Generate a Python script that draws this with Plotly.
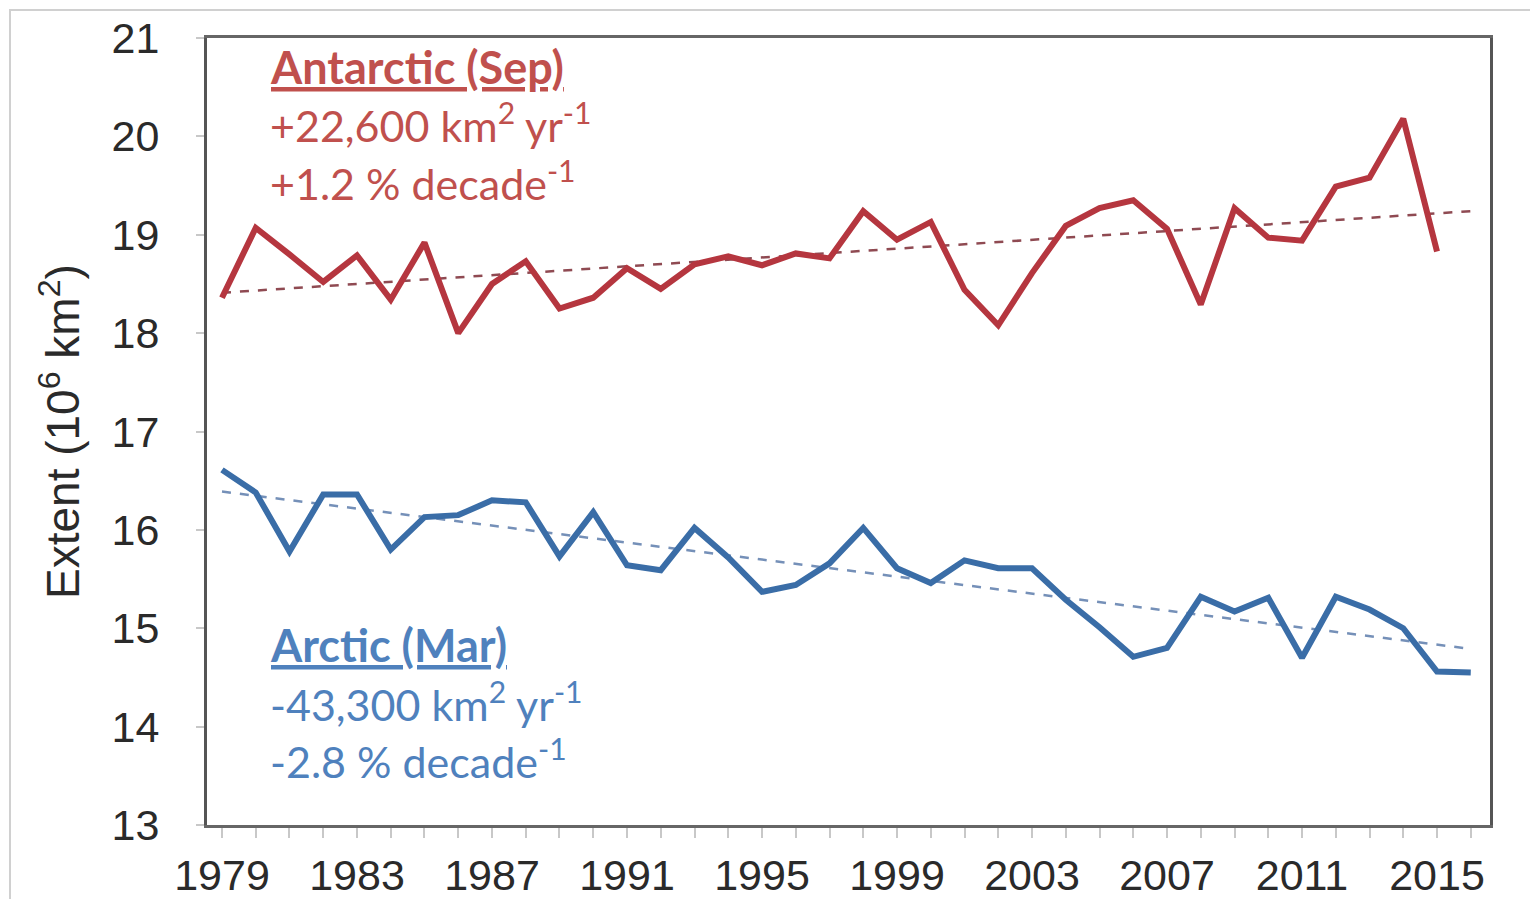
import plotly.graph_objects as go

years_ant = list(range(1979, 2016))
antarctic_sep = [18.36, 19.07, 18.80, 18.52, 18.79, 18.34, 18.92, 18.00, 18.50, 18.73,
                 18.25, 18.36, 18.66, 18.45, 18.70, 18.78, 18.69, 18.81, 18.76, 19.24,
                 18.95, 19.13, 18.44, 18.08, 18.61, 19.09, 19.27, 19.35, 19.06, 18.29,
                 19.27, 18.97, 18.94, 19.49, 19.58, 20.18, 18.83]

years_arc = list(range(1979, 2017))
arctic_mar = [16.61, 16.38, 15.78, 16.36, 16.36, 15.80, 16.13, 16.15, 16.30, 16.28,
              15.73, 16.18, 15.64, 15.59, 16.02, 15.72, 15.37, 15.44, 15.66, 16.02,
              15.61, 15.46, 15.69, 15.61, 15.61, 15.29, 15.01, 14.71, 14.80, 15.32,
              15.17, 15.31, 14.70, 15.32, 15.19, 15.00, 14.56, 14.55]

trend_years = [1979, 2016]
antarctic_trend = [18.41, 19.24]
arctic_trend = [16.39, 14.79]

tick_years = [1979, 1983, 1987, 1991, 1995, 1999, 2003, 2007, 2011, 2015]
y_ticks = [13, 14, 15, 16, 17, 18, 19, 20, 21]

RED_LINE = "#B5363F"
BLUE_LINE = "#3A6DA7"
RED_TXT = "#C0504D"
BLUE_TXT = "#4F81BD"

# page has an 8px body margin; figure coordinates = reference coordinates - 8
W, H = 1522, 891
PL, PR, PT, PB = 199, 1482, 30, 817   # plot area in figure pixels
PW, PH = PR - PL, PB - PT

def px(xr):
    return (xr - 8 - PL) / PW

def py(yr):
    return (PB - (yr - 8)) / PH

fig = go.Figure()
fig.add_trace(go.Scatter(x=trend_years, y=antarctic_trend, mode="lines",
                         line=dict(color="#8f4a52", width=2.5, dash="dash"), hoverinfo="skip"))
fig.add_trace(go.Scatter(x=trend_years, y=arctic_trend, mode="lines",
                         line=dict(color="#7590b8", width=2.5, dash="dash"), hoverinfo="skip"))
fig.add_trace(go.Scatter(x=years_ant, y=antarctic_sep, mode="lines",
                         line=dict(color=RED_LINE, width=6)))
fig.add_trace(go.Scatter(x=years_arc, y=arctic_mar, mode="lines",
                         line=dict(color=BLUE_LINE, width=6)))

axis_font = dict(family="Liberation Sans, Arial, sans-serif", size=43, color="#2a2a2a")

fig.update_layout(
    width=W, height=H,
    margin=dict(l=PL, r=W - PR, t=PT, b=H - PB, autoexpand=False),
    paper_bgcolor="white", plot_bgcolor="white",
    showlegend=False,
    xaxis=dict(range=[1978.556, 2016.57], tickvals=tick_years, ticktext=[str(t) for t in tick_years],
               automargin=False,
               showgrid=False, zeroline=False, showline=True, linecolor="#666", linewidth=3,
               mirror=True, ticks="outside", ticklen=10, tickcolor="#c8c8c8", tickwidth=1.5,
               minor=dict(dtick=1, tick0=1979, ticks="outside", ticklen=10, tickcolor="#c8c8c8",
                          tickwidth=1.5, showgrid=False),
               tickfont=axis_font, ticklabelstandoff=0),
    yaxis=dict(range=[13, 21], tickvals=y_ticks, showgrid=False, zeroline=False,
               automargin=False,
               showline=True, linecolor="#555", linewidth=3, mirror=True,
               ticks="outside", ticklen=8, tickcolor="#c8c8c8", tickwidth=1.5,
               tickfont=axis_font, ticklabelstandoff=28),
)

fig.add_annotation(xref="paper", yref="paper", x=px(60), y=py(432),
                   text="Extent (10<sup>6</sup> km<sup>2</sup>)", textangle=-90, showarrow=False,
                   xanchor="center", yanchor="middle",
                   font=dict(family="Liberation Sans, Arial, sans-serif", size=46, color="#2a2a2a"))

txt_font = "Lato, Open Sans, sans-serif"
def ann(text, ypix, color, bold=False):
    fig.add_annotation(xref="paper", yref="paper", x=px(268), y=py(ypix),
                       text=text, showarrow=False, xanchor="left", yanchor="middle",
                       font=dict(family=txt_font, size=45 if bold else 43, color=color,
                                 weight="bold" if bold else "normal"))

ann("<u>Antarctic (Sep)</u>", 67, RED_TXT, True)
ann("+22,600 km<sup>2</sup> yr<sup>-1</sup>", 123, RED_TXT)
ann("+1.2 % decade<sup>-1</sup>", 181, RED_TXT)
ann("<u>Arctic (Mar)</u>", 645, BLUE_TXT, True)
ann("-43,300 km<sup>2</sup> yr<sup>-1</sup>", 701, BLUE_TXT)
ann("-2.8 % decade<sup>-1</sup>", 758, BLUE_TXT)

# outer light frame (top and left edges), kept just inside the figure
fig.add_shape(type="line", xref="paper", yref="paper", x0=px(9), x1=px(1538),
              y0=py(10), y1=py(10), line=dict(color="#d0d0d0", width=2))
fig.add_shape(type="line", xref="paper", yref="paper", x0=px(10), x1=px(10),
              y0=py(10), y1=py(905), line=dict(color="#d0d0d0", width=2))

fig.write_html("out.html")
